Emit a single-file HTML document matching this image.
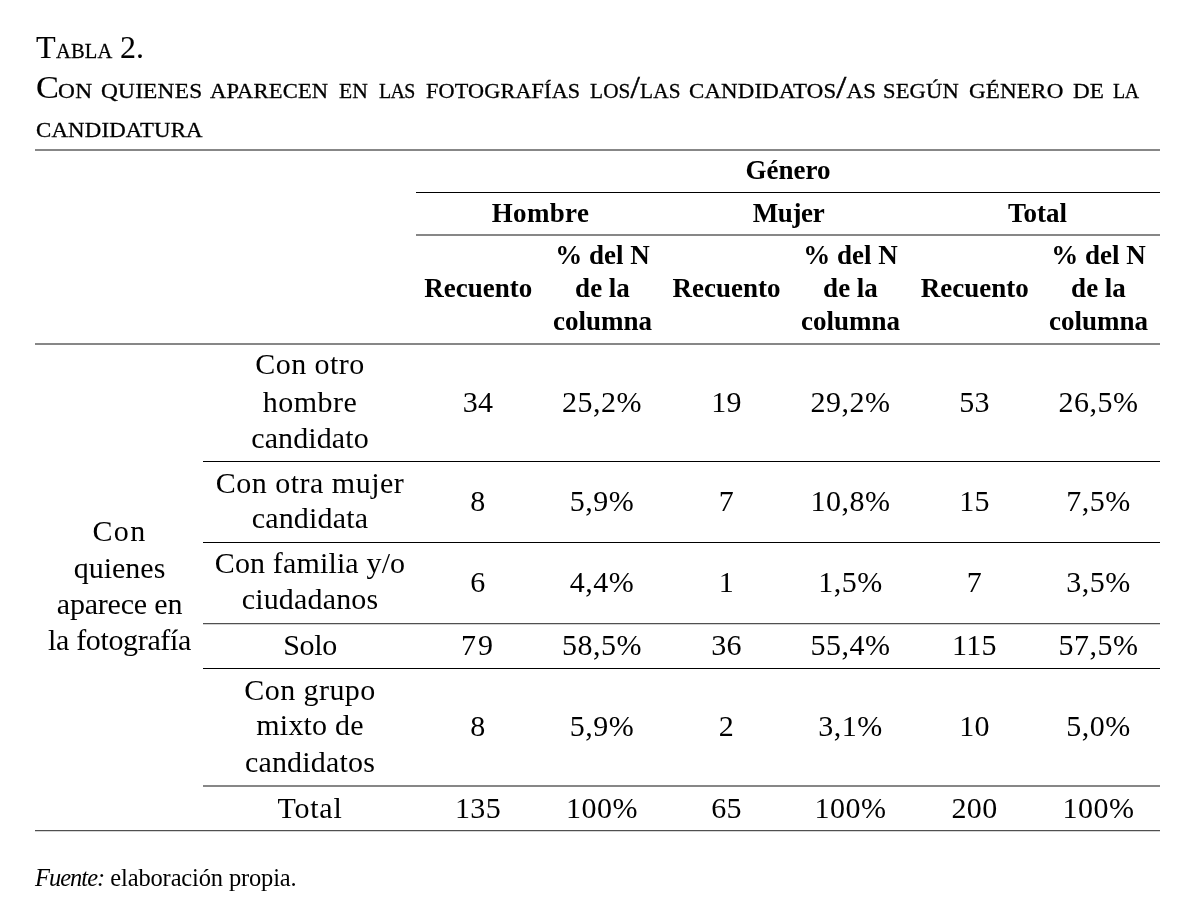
<!DOCTYPE html>
<html lang="es">
<head>
<meta charset="utf-8">
<title>Tabla 2</title>
<style>
html,body{margin:0;padding:0;background:#fff;}
body{width:1196px;height:922px;overflow:hidden;font-family:"Liberation Serif",serif;color:#000;}
#page{position:relative;width:1196px;height:922px;overflow:hidden;background:#fff;}
.r{position:absolute;}
.c{position:absolute;width:300px;text-align:center;white-space:nowrap;}
.b{font-size:30px;line-height:36.5px;}
.h{font-size:27px;line-height:33.3px;font-weight:bold;}
.cap{position:absolute;left:0;width:1196px;height:40px;white-space:nowrap;font-size:20.5px;line-height:40px;}
.cap .w{position:absolute;top:0;text-transform:uppercase;transform:scaleX(1.12);transform-origin:0 0;-webkit-text-stroke:0.3px #000;}
.cap .B{font-size:32.5px;line-height:0;-webkit-text-stroke:0.1px #000;}
.cap .S{-webkit-text-stroke:0.5px #000;}
.foot{position:absolute;white-space:nowrap;font-size:24.5px;line-height:30px;}
.foot i{letter-spacing:-1px;}
</style>
</head>
<body>
<div id="page">
<div class="cap" style="top:30.78px"><span class="w" style="left:35.8px;letter-spacing:0px;transform:scaleX(0.99)"><span class="B">T</span></span><span class="w" style="left:55.9px;letter-spacing:0.15px;transform:scaleX(0.999)">abla</span> <span class="w" style="left:120.32px;letter-spacing:0.0px;transform:scaleX(0.981)"><span class="B">2.</span></span></div>
<div class="cap" style="top:70.68px"><span class="w" style="left:35.64px;letter-spacing:0px;transform:scaleX(1.058)"><span class="B">C</span></span><span class="w" style="left:57.66px;letter-spacing:0.25px;transform:scaleX(1.14)">on</span> <span class="w" style="left:101.26px;letter-spacing:0.17px;transform:scaleX(1.14)">quienes</span> <span class="w" style="left:210.2px;letter-spacing:0.15px;transform:scaleX(1.1)">aparecen</span> <span class="w" style="left:339.0px;letter-spacing:0.15px;transform:scaleX(1.053)">en</span> <span class="w" style="left:379.3px;letter-spacing:-0.6px;transform:scaleX(0.97)">las</span> <span class="w" style="left:426.2px;letter-spacing:0.15px;transform:scaleX(1.083)">fotografías</span> <span class="w" style="left:590.2px;letter-spacing:0.15px;transform:scaleX(1.036)">los<span class="B S">/</span>las</span> <span class="w" style="left:688.69px;letter-spacing:0.15px;transform:scaleX(1.115)">candidatos<span class="B S">/</span>as</span> <span class="w" style="left:883.2px;letter-spacing:0.15px;transform:scaleX(1.099)">según</span> <span class="w" style="left:969.18px;letter-spacing:0.15px;transform:scaleX(1.124)">género</span> <span class="w" style="left:1072.9px;letter-spacing:0.15px;transform:scaleX(1.127)">de</span> <span class="w" style="left:1113.2px;letter-spacing:-0.3px;transform:scaleX(0.97)">la</span></div>
<div class="cap" style="top:109.78px"><span class="w" style="left:36.39px;letter-spacing:0.15px;transform:scaleX(1.114)">candidatura</span></div>
<div class="r" style="left:35px;top:149px;width:1125px;height:2px;background:#878787"></div>
<div class="r" style="left:416px;top:192px;width:744px;height:1px;background:#000"></div>
<div class="r" style="left:416px;top:234px;width:744px;height:2px;background:#878787"></div>
<div class="r" style="left:35px;top:343px;width:1125px;height:2px;background:#878787"></div>
<div class="r" style="left:203px;top:461px;width:957px;height:1px;background:#000"></div>
<div class="r" style="left:203px;top:542px;width:957px;height:1px;background:#000"></div>
<div class="r" style="left:203px;top:623px;width:957px;height:1px;background:#505050"></div>
<div class="r" style="left:203px;top:624px;width:957px;height:1px;background:#d2d2d2"></div>
<div class="r" style="left:203px;top:668px;width:957px;height:1px;background:#000"></div>
<div class="r" style="left:203px;top:785px;width:957px;height:2px;background:#878787"></div>
<div class="r" style="left:35px;top:830px;width:1125px;height:1px;background:#4f4f4f"></div>
<div class="r" style="left:35px;top:831px;width:1125px;height:1px;background:#d6d6d6"></div>
<div class="row head">
<div class="c h" style="left:638.00px;top:153.74px;">Género</div>
<div class="c h" style="left:390.50px;top:196.84px;letter-spacing:0.35px;">Hombre</div>
<div class="c h" style="left:638.50px;top:196.84px;letter-spacing:-0.4px;">Mujer</div>
<div class="c h" style="left:887.50px;top:196.84px;">Total</div>
<div class="c h" style="left:328.30px;top:271.74px;">Recuento</div>
<div class="c h" style="left:576.50px;top:271.74px;">Recuento</div>
<div class="c h" style="left:824.80px;top:271.74px;">Recuento</div>
<div class="c h" style="left:452.50px;top:238.84px;">% del N<br>de la<br>columna</div>
<div class="c h" style="left:700.50px;top:238.84px;">% del N<br>de la<br>columna</div>
<div class="c h" style="left:948.50px;top:238.84px;">% del N<br>de la<br>columna</div>
</div>
<div class="row">
<div class="c b" style="left:-30.50px;top:512.83px;letter-spacing:1.3px;">Con</div>
<div class="c b" style="left:-30.50px;top:549.83px;">quienes</div>
<div class="c b" style="left:-30.50px;top:585.83px;letter-spacing:-0.2px;">aparece en</div>
<div class="c b" style="left:-30.50px;top:621.83px;letter-spacing:-0.35px;">la fotografía</div>
</div>
<div class="row">
<div class="c b" style="left:160.00px;top:345.82px;letter-spacing:0.46px;">Con otro</div>
<div class="c b" style="left:160.00px;top:383.82px;letter-spacing:0.48px;">hombre</div>
<div class="c b" style="left:160.00px;top:419.82px;letter-spacing:0.1px;">candidato</div>
<div class="c b" style="left:328.00px;top:383.82px;letter-spacing:0.3px;">34</div>
<div class="c b" style="left:452.00px;top:383.82px;letter-spacing:0.5px;">25,2%</div>
<div class="c b" style="left:576.50px;top:383.82px;letter-spacing:0.3px;">19</div>
<div class="c b" style="left:700.50px;top:383.82px;letter-spacing:0.5px;">29,2%</div>
<div class="c b" style="left:824.50px;top:383.82px;letter-spacing:0.3px;">53</div>
<div class="c b" style="left:948.50px;top:383.82px;letter-spacing:0.5px;">26,5%</div>
</div>
<div class="row">
<div class="c b" style="left:160.00px;top:464.82px;letter-spacing:0.5px;">Con otra mujer</div>
<div class="c b" style="left:160.00px;top:499.83px;letter-spacing:0.2px;">candidata</div>
<div class="c b" style="left:328.00px;top:482.82px;letter-spacing:0.3px;">8</div>
<div class="c b" style="left:452.00px;top:482.82px;letter-spacing:0.5px;">5,9%</div>
<div class="c b" style="left:576.50px;top:482.82px;letter-spacing:0.3px;">7</div>
<div class="c b" style="left:700.50px;top:482.82px;letter-spacing:0.5px;">10,8%</div>
<div class="c b" style="left:824.50px;top:482.82px;letter-spacing:0.3px;">15</div>
<div class="c b" style="left:948.50px;top:482.82px;letter-spacing:0.5px;">7,5%</div>
</div>
<div class="row">
<div class="c b" style="left:160.00px;top:544.83px;letter-spacing:0.15px;">Con familia y/o</div>
<div class="c b" style="left:160.00px;top:580.83px;letter-spacing:0.17px;">ciudadanos</div>
<div class="c b" style="left:328.00px;top:563.83px;letter-spacing:0.3px;">6</div>
<div class="c b" style="left:452.00px;top:563.83px;letter-spacing:0.5px;">4,4%</div>
<div class="c b" style="left:576.50px;top:563.83px;letter-spacing:0.3px;">1</div>
<div class="c b" style="left:700.50px;top:563.83px;letter-spacing:0.5px;">1,5%</div>
<div class="c b" style="left:824.50px;top:563.83px;letter-spacing:0.3px;">7</div>
<div class="c b" style="left:948.50px;top:563.83px;letter-spacing:0.5px;">3,5%</div>
</div>
<div class="row">
<div class="c b" style="left:160.00px;top:626.83px;letter-spacing:-0.35px;">Solo</div>
<div class="c b" style="left:328.00px;top:626.83px;letter-spacing:2.0px;">79</div>
<div class="c b" style="left:452.00px;top:626.83px;letter-spacing:0.5px;">58,5%</div>
<div class="c b" style="left:576.50px;top:626.83px;letter-spacing:0.3px;">36</div>
<div class="c b" style="left:700.50px;top:626.83px;letter-spacing:0.5px;">55,4%</div>
<div class="c b" style="left:824.50px;top:626.83px;letter-spacing:0.3px;">115</div>
<div class="c b" style="left:948.50px;top:626.83px;letter-spacing:0.5px;">57,5%</div>
</div>
<div class="row">
<div class="c b" style="left:160.00px;top:671.83px;letter-spacing:0.45px;">Con grupo</div>
<div class="c b" style="left:160.00px;top:706.83px;letter-spacing:0.19px;">mixto de</div>
<div class="c b" style="left:160.00px;top:743.83px;letter-spacing:0.19px;">candidatos</div>
<div class="c b" style="left:328.00px;top:707.83px;letter-spacing:0.3px;">8</div>
<div class="c b" style="left:452.00px;top:707.83px;letter-spacing:0.5px;">5,9%</div>
<div class="c b" style="left:576.50px;top:707.83px;letter-spacing:0.3px;">2</div>
<div class="c b" style="left:700.50px;top:707.83px;letter-spacing:0.5px;">3,1%</div>
<div class="c b" style="left:824.50px;top:707.83px;letter-spacing:0.3px;">10</div>
<div class="c b" style="left:948.50px;top:707.83px;letter-spacing:0.5px;">5,0%</div>
</div>
<div class="row">
<div class="c b" style="left:160.00px;top:789.83px;letter-spacing:0.78px;">Total</div>
<div class="c b" style="left:328.00px;top:789.83px;letter-spacing:0.3px;">135</div>
<div class="c b" style="left:452.00px;top:789.83px;letter-spacing:0.5px;">100%</div>
<div class="c b" style="left:576.50px;top:789.83px;letter-spacing:0.3px;">65</div>
<div class="c b" style="left:700.50px;top:789.83px;letter-spacing:0.5px;">100%</div>
<div class="c b" style="left:824.50px;top:789.83px;letter-spacing:0.3px;">200</div>
<div class="c b" style="left:948.50px;top:789.83px;letter-spacing:0.5px;">100%</div>
</div>
<div class="foot" style="left:35px;top:863.13px"><i>Fuente:</i> <span style="letter-spacing:-0.15px">elaboración propia.</span></div>
</div>
</body>
</html>
